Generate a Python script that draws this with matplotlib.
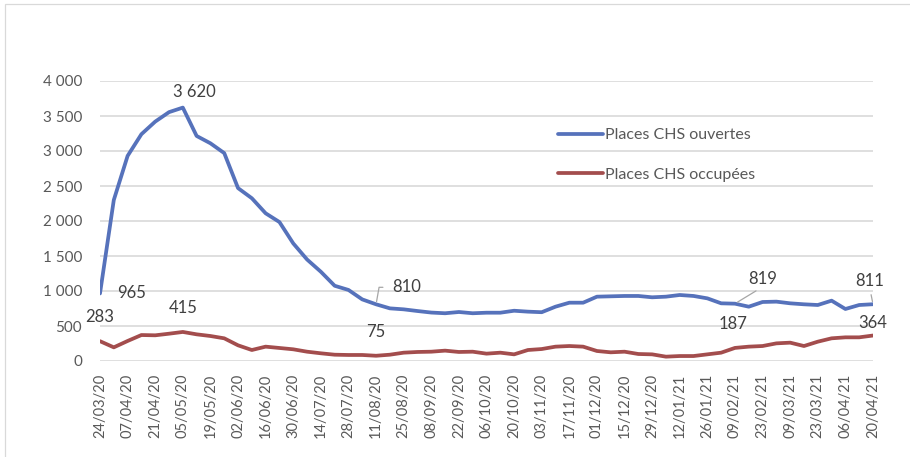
import matplotlib
matplotlib.use("Agg")
import matplotlib.pyplot as plt
import pandas as pd
from matplotlib.ticker import FuncFormatter, MultipleLocator

plt.rcParams['font.family'] = ['Lato', 'DejaVu Sans']

# ---- data ----
weeks = pd.date_range('2020-03-24', periods=57, freq='7D')
week_labels = [d.strftime('%d/%m/%y') for d in weeks]

places_ouvertes = [965, 2300, 2930, 3240, 3420, 3555, 3620, 3215, 3110, 2970,
                   2470, 2325, 2110, 1985, 1680, 1450, 1275, 1075, 1015, 880,
                   810, 752, 738, 714, 692, 682, 700, 682, 690, 690,
                   718, 705, 697, 776, 833, 833, 919, 924, 929, 929,
                   910, 919, 943, 929, 895, 824, 819, 776, 843, 848,
                   824, 810, 800, 862, 743, 800, 811]
places_occupees = [283, 195, 286, 371, 367, 390, 415, 381, 357, 324,
                   224, 157, 205, 186, 167, 133, 110, 90, 86, 86,
                   75, 90, 119, 129, 133, 148, 129, 133, 105, 119,
                   95, 157, 171, 205, 214, 205, 143, 124, 133, 100,
                   95, 62, 71, 71, 95, 119, 187, 205, 214, 252,
                   262, 214, 276, 324, 338, 338, 364]

series_names = ['Places CHS ouvertes', 'Places CHS occupées']
colors = ['#5672BB', '#A34D4D']

# labelled points: (series index, point index)
labelled = [(0, 0), (0, 6), (0, 20), (0, 46), (0, 56),
            (1, 0), (1, 6), (1, 20), (1, 46), (1, 56)]
# label offsets in pixels (style only) and leader style
label_style = {
    (0, 0): (32, 0, None),
    (0, 6): (12, 16, None),
    (0, 20): (31, 17, 'angle'),
    (0, 46): (28, 25, 'line'),
    (0, 56): (-3, 23, 'line'),
    (1, 0): (0, 24, None),
    (1, 6): (0, 24, None),
    (1, 20): (0, 24, None),
    (1, 46): (-2, 24, None),
    (1, 56): (0, 13, None),
}

fmt = lambda v: f"{v:,.0f}".replace(',', ' ')

W, H = 910, 457
fig = plt.figure(figsize=(W / 100, H / 100), dpi=100)
ax = fig.add_axes([100 / W, 96 / H, 773 / W, 280 / H])

x = list(range(len(weeks)))
data = [places_ouvertes, places_occupees]
lines = []
for s, (vals, name, c) in enumerate(zip(data, series_names, colors)):
    ln, = ax.plot(x, vals, color=c, lw=2.7, solid_joinstyle='round',
                  solid_capstyle='round', label=name, zorder=3)
    lines.append(ln)

ax.set_xlim(0, len(weeks) - 1)
ax.set_ylim(0, 4000)
ax.yaxis.set_major_locator(MultipleLocator(500))
ax.yaxis.set_major_formatter(FuncFormatter(lambda v, p: fmt(v)))
ax.grid(axis='y', color='#D9D9D9', lw=1.2, zorder=0)
ax.set_axisbelow(True)
for sp in ax.spines.values():
    sp.set_visible(False)

ax.set_xticks(x[::2])
ax.set_xticklabels(week_labels[::2], rotation=90, fontsize=10.5, color='#595959')
ax.tick_params(axis='x', length=0, pad=9)
ax.tick_params(axis='y', length=0, pad=13, labelsize=11, labelcolor='#595959')

for key in labelled:
    s, i = key
    dx, dy, leader = label_style[key]
    val = data[s][i]
    kw = {}
    if leader == 'angle':
        kw['arrowprops'] = dict(arrowstyle='-', color='#A6A6A6', lw=0.9,
                                connectionstyle='angle,angleA=0,angleB=80,rad=0',
                                relpos=(0, 0.5), shrinkA=5, shrinkB=2)
    elif leader == 'line':
        kw['arrowprops'] = dict(arrowstyle='-', color='#A6A6A6', lw=0.9,
                                relpos=(0.5, 0), shrinkA=2, shrinkB=2)
    ax.annotate(fmt(val), xy=(i, val), xytext=(dx, dy), textcoords='offset pixels',
                ha='center', va='center', fontsize=12, color='#404040',
                annotation_clip=False, zorder=5, **kw)

leg = ax.legend(handles=lines, loc='upper left',
                bbox_to_anchor=(558 / W, (H - 128) / H),
                bbox_transform=fig.transFigure, frameon=False,
                fontsize=11.5, handlelength=2.8, handletextpad=0.15,
                labelspacing=1.6, borderpad=0, borderaxespad=0)
for t in leg.get_texts():
    t.set_color('#595959')

border = plt.Rectangle((5 / W, -0.2), 2.0, (H - 3.5) / H + 0.2,
                       transform=fig.transFigure, fill=False,
                       edgecolor='#D9D9D9', lw=0.9, clip_on=False)
fig.patches.append(border)

fig.savefig('out.png', dpi=100, facecolor='white')
